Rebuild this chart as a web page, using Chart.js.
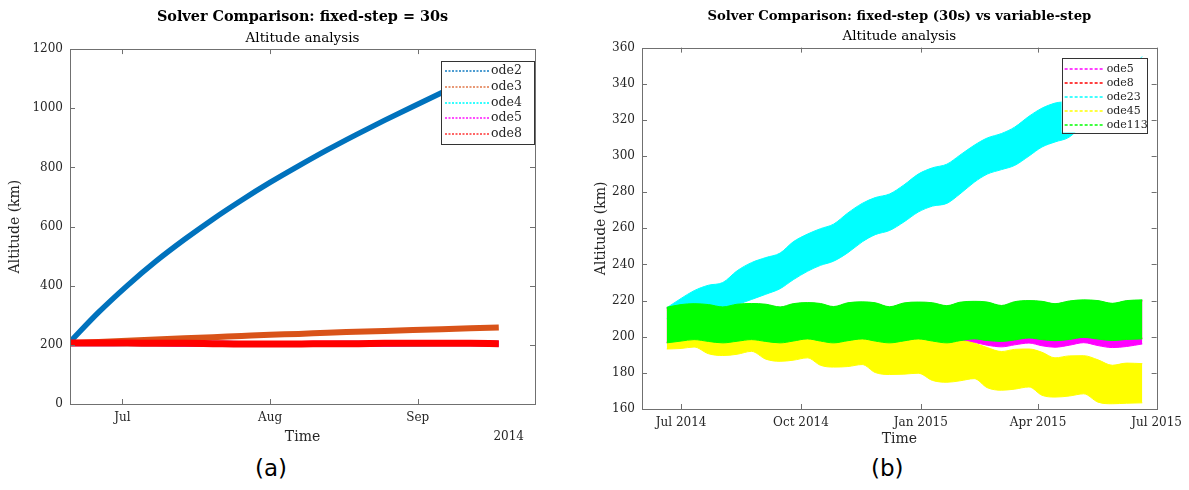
<!DOCTYPE html>
<html>
<head>
<meta charset="utf-8">
<script src="https://cdn.jsdelivr.net/npm/chart.js@4.4.1/dist/chart.umd.min.js"></script>
<style>
  body { margin: 0; background: #fff; }
  #wrap { position: relative; width: 1189px; height: 490px; }
  canvas { position: absolute; top: 0; }
  #cA { left: 0; }
  #cB { left: 580px; }
  .tag { position: absolute; top: 455px; font: 23px "DejaVu Sans", sans-serif; color: #000; }
</style>
</head>
<body>
<div id="wrap">
  <canvas id="cA" width="560" height="450"></canvas>
  <canvas id="cB" width="609" height="450"></canvas>
  <div class="tag" style="left:255px">(a)</div>
  <div class="tag" style="left:871px">(b)</div>
</div>
<script>
// ---- (a) fixed-step 30 s, days since 20 Jun 2014 ----
const daysA = [0, 6, 12, 18, 24, 30, 36, 42, 48, 54, 60, 66, 72, 78, 84, 90];
const ode2A = [210, 310, 400, 482, 556, 625, 689, 749, 805, 859, 910, 959, 1006, 1052, 1096, 1139];
const ode3A = [206, 210, 214, 218, 222, 226, 230, 234, 237, 241, 244, 247, 250, 253, 256, 259];
const ode4A = [205, 205, 205, 205, 204, 204, 203, 203, 203, 203, 204, 204, 204, 205, 205, 204];
const ode5A = [205, 205, 206, 205, 204, 204, 203, 203, 203, 204, 204, 204, 205, 205, 205, 204];
const ode8A = [206, 206, 206, 205, 205, 204, 203, 203, 203, 204, 204, 205, 205, 205, 205, 204];
const tickDaysA = [11, 42, 73];
const tickLabelsA = ["Jul", "Aug", "Sep"];
const yearLabelA = "2014";

// ---- (b) fixed-step vs variable-step, band envelopes (min / max altitude) ----
const daysB = [0, 11, 21, 32, 43, 54, 65, 76, 87, 97, 108, 118, 128, 139, 150, 160, 171, 182,
  193, 204, 215, 225, 236, 246, 257, 267, 278, 288, 298, 309, 320, 331, 342, 353, 365];
const ode5Top = [216.0, 217.5, 218.0, 217.5, 216.2, 217.7, 218.1, 217.7, 216.2, 218.0, 218.6, 218.1,
  216.4, 218.5, 219.0, 218.5, 216.3, 218.4, 218.9, 218.5, 216.9, 218.8, 219.3, 218.9, 217.0, 219.1,
  219.7, 219.3, 218.0, 219.5, 220.1, 219.7, 218.2, 219.7, 220.1];
const ode5Bot = [196.8, 197.8, 198.6, 197.6, 196.8, 197.7, 198.6, 197.6, 196.8, 197.8, 199.0, 197.8,
  196.8, 198.0, 199.0, 197.8, 196.8, 197.9, 199.0, 197.8, 196.8, 197.2, 196.8, 195.3, 194.4, 195.5,
  196.5, 195.0, 194.2, 195.3, 196.7, 195.1, 194.0, 194.6, 196.0];
const ode8Top = [215.8, 217.2, 217.7, 217.2, 216.0, 217.4, 217.8, 217.4, 216.0, 217.7, 218.3, 217.8,
  216.2, 218.2, 218.7, 218.2, 216.1, 218.1, 218.6, 218.2, 216.7, 218.5, 219.0, 218.6, 216.8, 218.8,
  219.4, 219.0, 217.8, 219.2, 219.8, 219.4, 218.0, 219.4, 219.8];
const ode8Bot = [197.0, 198.0, 198.8, 197.8, 197.0, 197.9, 198.8, 197.8, 197.0, 198.0, 199.2, 198.0,
  197.0, 198.2, 199.2, 198.0, 197.0, 198.1, 199.2, 198.0, 197.0, 198.2, 199.2, 198.3, 197.8, 198.6,
  199.7, 198.8, 198.2, 198.9, 200.0, 199.1, 198.3, 198.9, 199.2];
const ode23Top = [216.0, 221.2, 225.5, 228.5, 230.0, 236.5, 241.0, 243.8, 246.3, 252.5, 256.8, 259.8,
  262.3, 268.5, 273.8, 277.0, 279.0, 284.0, 290.0, 293.5, 295.5, 300.5, 306.0, 310.0, 312.5, 316.0,
  322.0, 326.5, 329.3, 331.0, 338.0, 343.0, 346.0, 348.5, 355.0];
const ode23Bot = [210.0, 211.0, 213.0, 214.5, 215.5, 217.8, 220.6, 223.5, 226.6, 231.5, 236.2, 239.5,
  241.8, 246.5, 252.5, 256.5, 258.8, 263.5, 269.0, 272.3, 273.8, 279.0, 285.5, 290.0, 292.5, 294.8,
  300.0, 305.0, 307.8, 310.5, 318.0, 325.0, 329.5, 332.0, 335.0];
const ode45Top = [214.8, 214.6, 215.0, 213.2, 211.0, 212.0, 213.2, 210.0, 207.8, 208.6, 209.6, 206.6,
  204.6, 205.2, 206.0, 202.5, 200.4, 200.8, 201.2, 198.0, 197.0, 197.8, 196.4, 194.0, 191.8, 193.0,
  193.2, 191.4, 188.3, 189.4, 189.5, 187.2, 184.2, 185.4, 185.1];
const ode45Bot = [193.2, 193.5, 194.3, 190.6, 189.6, 190.3, 191.9, 187.6, 186.4, 187.0, 188.3, 184.2,
  183.2, 183.5, 184.6, 180.2, 179.1, 179.3, 179.8, 175.8, 174.8, 175.6, 176.8, 171.8, 170.4, 171.0,
  172.2, 167.6, 166.6, 167.2, 168.4, 163.8, 162.9, 163.2, 163.4];
const ode113Top = [216.3, 217.8, 218.3, 217.8, 216.5, 218.0, 218.4, 218.0, 216.5, 218.3, 218.9, 218.4,
  216.7, 218.8, 219.3, 218.8, 216.6, 218.7, 219.2, 218.8, 217.2, 219.1, 219.6, 219.2, 217.3, 219.4,
  220.0, 219.6, 218.3, 219.8, 220.4, 220.0, 218.5, 220.0, 220.4];
const ode113Bot = [196.6, 197.6, 198.4, 197.4, 196.6, 197.5, 198.4, 197.4, 196.6, 197.6, 198.8, 197.6,
  196.6, 197.8, 198.8, 197.6, 196.6, 197.7, 198.8, 197.6, 196.6, 197.8, 198.8, 197.9, 197.4, 198.2,
  199.3, 198.4, 197.8, 198.5, 199.6, 198.7, 197.9, 198.5, 198.8];
const tickDaysB = [11, 103, 195, 285, 376];
const tickLabelsB = ["Jul 2014", "Oct 2014", "Jan 2015", "Apr 2015", "Jul 2015"];

const FONT = "'DejaVu Serif', serif";
const INK = "#262626";
Chart.defaults.font.family = FONT;
Chart.defaults.color = INK;

const pts = (days, vals) => days.map((d, i) => ({ x: d, y: vals[i] }));

// matlab style box with inward ticks on all four sides
const axesBox = {
  id: "axesBox",
  afterDatasetsDraw(chart) {
    const { ctx, chartArea: a, scales: { x, y } } = chart;
    ctx.save();
    ctx.strokeStyle = "#707070";
    ctx.lineWidth = 1;
    ctx.beginPath();
    x.ticks.forEach((t) => {
      const px = Math.round(x.getPixelForValue(t.value)) + 0.5;
      ctx.moveTo(px, a.bottom); ctx.lineTo(px, a.bottom - 5);
      ctx.moveTo(px, a.top); ctx.lineTo(px, a.top + 5);
    });
    y.ticks.forEach((t) => {
      const py = Math.round(y.getPixelForValue(t.value)) + 0.5;
      ctx.moveTo(a.left, py); ctx.lineTo(a.left + 5, py);
      ctx.moveTo(a.right, py); ctx.lineTo(a.right - 5, py);
    });
    ctx.stroke();
    ctx.strokeRect(Math.round(a.left) + 0.5, Math.round(a.top) + 0.5,
      Math.round(a.width), Math.round(a.height));
    ctx.restore();
  },
};

// legend box inside the axes, top right
const boxLegend = {
  id: "boxLegend",
  afterDraw(chart, args, o) {
    const { ctx, chartArea: a } = chart;
    const items = chart.data.datasets.filter((d) => d.inLegend);
    const left = a.right - o.right - o.w;
    const top = a.top + o.top;
    ctx.save();
    ctx.fillStyle = "#fff";
    ctx.fillRect(left, top, o.w, o.h);
    ctx.strokeStyle = "#333";
    ctx.lineWidth = 1;
    ctx.strokeRect(Math.round(left) + 0.5, Math.round(top) + 0.5, o.w, o.h);
    ctx.font = o.size + "px " + FONT;
    ctx.textBaseline = "middle";
    ctx.textAlign = "left";
    items.forEach((d, i) => {
      const yy = Math.round(top + o.first + i * o.row);
      ctx.strokeStyle = d.legendColor;
      ctx.lineWidth = o.lineW;
      ctx.setLineDash(o.dash);
      ctx.beginPath();
      ctx.moveTo(left + o.x0, yy);
      ctx.lineTo(left + o.x1, yy);
      ctx.stroke();
      ctx.setLineDash([]);
      ctx.fillStyle = INK;
      ctx.fillText(d.label, left + o.tx, yy);
    });
    if (o.year) {
      ctx.font = "12px " + FONT;
      ctx.textAlign = "right";
      ctx.fillStyle = INK;
      ctx.fillText(o.year, a.right - 11, 437);
    }
    ctx.restore();
  },
};

function thick(label, vals, color, soft, width, order) {
  return {
    label, inLegend: true, legendColor: soft, data: pts(daysA, vals),
    borderColor: color, borderWidth: width, borderCapStyle: "butt",
    pointRadius: 0, cubicInterpolationMode: "monotone", fill: false, order,
  };
}

function band(label, color, lower, upper, order) {
  return [
    { label: label + " min", data: pts(daysB, lower), borderColor: color, borderWidth: 1,
      pointRadius: 0, fill: false, order, cubicInterpolationMode: "monotone" },
    { label, inLegend: true, legendColor: color, data: pts(daysB, upper), borderColor: color,
      backgroundColor: color, borderWidth: 1, pointRadius: 0, fill: "-1", order,
      cubicInterpolationMode: "monotone" },
  ];
}

function titles(text, size) {
  return {
    title: { display: true, text, fullSize: false, color: "#000",
      font: { size, weight: "bold" }, padding: { top: 9, bottom: 4 } },
    subtitle: { display: true, text: "Altitude analysis", fullSize: false, color: "#000",
      font: { size: 13.5 }, padding: { top: 0, bottom: 2.6 } },
    legend: { display: false },
    tooltip: { enabled: false },
  };
}

function xAxis(min, max, tickDays, tickLabels, h, pb) {
  return {
    type: "linear", min, max,
    afterBuildTicks: (s) => { s.ticks = tickDays.map((v) => ({ value: v })); },
    afterFit: (s) => { s.height = h; },
    ticks: { callback: (v, i) => tickLabels[i], autoSkip: false, maxRotation: 0,
      padding: 7, font: { size: 12 } },
    grid: { display: false, drawTicks: false },
    border: { display: false },
    title: { display: true, text: "Time", font: { size: 14 }, padding: { top: 4, bottom: pb } },
  };
}

function yAxis(min, max, step, w, pt) {
  return {
    min, max,
    afterFit: (s) => { s.width = w; },
    ticks: { stepSize: step, padding: 7, font: { size: 12 }, callback: (v) => String(v) },
    grid: { display: false, drawTicks: false },
    border: { display: false },
    title: { display: true, text: "Altitude (km)", font: { size: 14 }, padding: { top: pt } },
  };
}

new Chart(document.getElementById("cA"), {
  type: "line",
  data: {
    datasets: [
      thick("ode2", ode2A, "#0072BD", "rgba(0,114,189,0.7)", 5.5, 5),
      thick("ode3", ode3A, "#D95319", "rgba(217,83,25,0.6)", 6, 4),
      thick("ode4", ode4A, "#00FFFF", "rgba(0,255,255,0.8)", 6, 3),
      thick("ode5", ode5A, "#FF00FF", "rgba(255,0,255,0.7)", 6, 2),
      thick("ode8", ode8A, "#FF0000", "rgba(255,0,0,0.6)", 7, 1),
    ],
  },
  options: {
    responsive: false, animation: false, devicePixelRatio: 1,
    layout: { padding: { left: 0, right: 25, top: 0, bottom: 0 } },
    plugins: {
      ...titles("Solver Comparison: fixed-step = 30s", 14.4),
      boxLegend: { right: 1, top: 12, w: 93, h: 83, first: 10, row: 15.8, size: 12.5,
        x0: 4, x1: 48, tx: 50, lineW: 2, dash: [2, 1.5], year: yearLabelA },
    },
    scales: {
      x: xAxis(0, 97.6, tickDaysA, tickLabelsA, 46, 4.6),
      y: yAxis(0, 1200, 200, 70, 6.6),
    },
  },
  plugins: [axesBox, boxLegend],
});

new Chart(document.getElementById("cB"), {
  type: "line",
  data: {
    datasets: [
      ...band("ode5", "#FF00FF", ode5Bot, ode5Top, 5),
      ...band("ode8", "#FF0000", ode8Bot, ode8Top, 4),
      ...band("ode23", "#00FFFF", ode23Bot, ode23Top, 3),
      ...band("ode45", "#FFFF00", ode45Bot, ode45Top, 2),
      ...band("ode113", "#00FF00", ode113Bot, ode113Top, 1),
    ],
  },
  options: {
    responsive: false, animation: false, devicePixelRatio: 1,
    layout: { padding: { left: 0, right: 32, top: 0, bottom: 0 } },
    plugins: {
      ...titles("Solver Comparison: fixed-step (30s) vs variable-step", 13.2),
      boxLegend: { right: 10, top: 10, w: 85, h: 75, first: 11, row: 14.1, size: 11,
        x0: 3, x1: 41, tx: 45, lineW: 1.5, dash: [3, 2] },
    },
    scales: {
      x: xAxis(-19, 376, tickDaysB, tickLabelsB, 41, 2.6),
      y: yAxis(160, 360, 20, 62, 13),
    },
  },
  plugins: [axesBox, boxLegend],
});
</script>
</body>
</html>
